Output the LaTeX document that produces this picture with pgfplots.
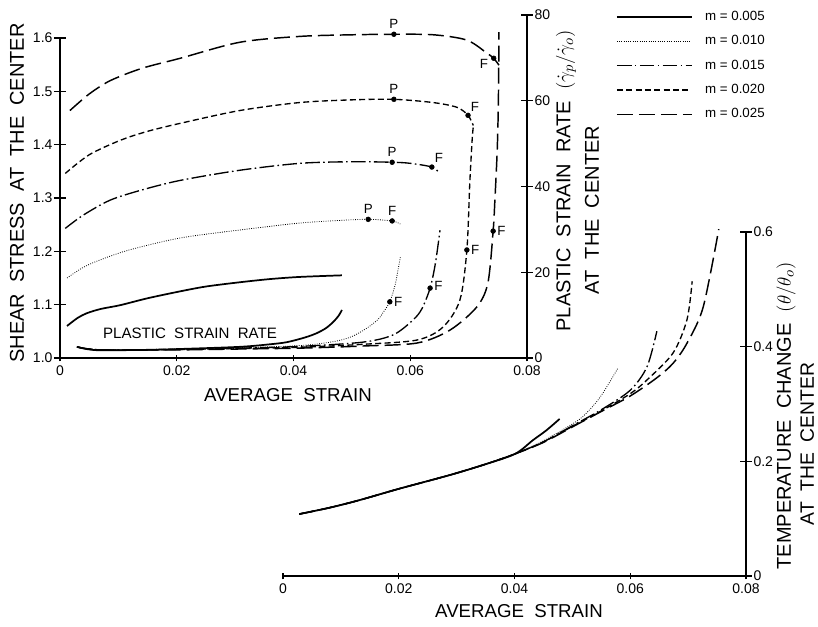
\documentclass[border=0pt]{standalone}
\usepackage{fontspec}
\setmainfont{Liberation Sans}
\usepackage{pgfplots}
\pgfplotsset{compat=1.18}

\newcommand{\ws}{\hspace{0.55em}}
\tikzset{
  m005/.style={black, line width=1.3pt},
  m010/.style={black, line width=0.6pt, dash pattern=on 0.6pt off 1.1pt},
  m015/.style={black, line width=1.0pt, dash pattern=on 11pt off 2.5pt on 1.2pt off 2.5pt},
  m020/.style={black, line width=1.0pt, dash pattern=on 4.5pt off 2.5pt},
  m025/.style={black, line width=1.1pt, dash pattern=on 12pt off 4.5pt},
}
\pgfplotsset{
  base/.style={
    scale only axis, clip=false,
    xmin=0, xmax=0.08,
    scaled x ticks=false, scaled y ticks=false,
    tick align=inside,
    tick style={black, line width=1.1pt},
    ticklabel style={font=\fontsize{10.5}{12}\selectfont},
    xtick style={/pgfplots/major tick length=5pt},
    ytick style={/pgfplots/major tick length=9pt},
  },
  nolinearrow/.style={
    every outer x axis line/.append style={-, line width=1.2pt},
    every outer y axis line/.append style={-, line width=1.2pt},
    axis line style={-, line width=1.2pt},
  },
  pf/.style={only marks, mark=*, mark size=1.8pt, black, forget plot},
}

\begin{document}
\begin{tikzpicture}
\path[use as bounding box] (0,0) rectangle (613.5pt,470.25pt);

% top: shear stress (left axis)
\begin{axis}[base,
  at={(45pt,201.75pt)}, anchor=south west,
  width=350.25pt, height=240pt,
  ymin=1.0, ymax=1.6,
  axis x line=bottom, axis y line=left, nolinearrow,
  xtick={0,0.02,0.04,0.06,0.08},
  xticklabels={0,0.02,0.04,0.06,0.08},
  ytick={1.0,1.1,1.2,1.3,1.4,1.5,1.6},
  yticklabels={1.0,1.1,1.2,1.3,1.4,1.5,1.6},
  legend style={at={(1.19,1.091)}, anchor=north west, draw=none, fill=none,
    font=\fontsize{10}{12}\selectfont, row sep=6.8pt, inner sep=0pt,
    nodes={inner sep=1.5pt},
    /tikz/every odd column/.append style={column sep=8pt}},
  legend cell align=left,
  legend image code/.code={\draw[#1] (0pt,0pt) -- (56pt,0pt);},
]
\addplot[m005, smooth] coordinates {
 (0.0012,1.060) (0.0030,1.075) (0.0046,1.084) (0.0070,1.092) (0.0103,1.099)
 (0.0150,1.112) (0.0206,1.125) (0.0250,1.134) (0.0308,1.142) (0.0360,1.148)
 (0.0411,1.152) (0.0483,1.155)};
\addlegendentry{m = 0.005}
\addplot[m010, smooth] coordinates {
 (0.0012,1.150) (0.0040,1.170) (0.0069,1.184) (0.0120,1.203) (0.0206,1.225)
 (0.0308,1.240) (0.0411,1.253) (0.0480,1.258) (0.0528,1.260) (0.0569,1.257)
 (0.0583,1.251)};
\addlegendentry{m = 0.010}
\addplot[m015, smooth] coordinates {
 (0.0009,1.243) (0.0040,1.268) (0.0086,1.296) (0.0140,1.315) (0.0206,1.333)
 (0.0308,1.352) (0.0411,1.365) (0.0500,1.368) (0.0569,1.367) (0.0600,1.365)
 (0.0637,1.358) (0.0651,1.346)};
\addlegendentry{m = 0.015}
\addplot[m020, smooth] coordinates {
 (0.0009,1.346) (0.0050,1.381) (0.0103,1.408) (0.0150,1.425) (0.0206,1.440)
 (0.0308,1.464) (0.0411,1.479) (0.0500,1.484) (0.0572,1.485) (0.0639,1.479)
 (0.0680,1.470) (0.0699,1.455) (0.0708,1.436)};
\addlegendentry{m = 0.020}
\addplot[m025, smooth] coordinates {
 (0.0017,1.464) (0.0050,1.495) (0.0086,1.520) (0.0140,1.543) (0.0206,1.562)
 (0.0308,1.592) (0.0411,1.603) (0.0500,1.606) (0.0572,1.607) (0.0640,1.606)
 (0.0697,1.596) (0.0732,1.571) (0.0743,1.562) (0.0752,1.549)};
\addlegendentry{m = 0.025}

\addplot[pf] coordinates {
 (0.0572,1.607) (0.0743,1.562) (0.0572,1.485) (0.0699,1.455)
 (0.0569,1.367) (0.0637,1.358) (0.0528,1.260) (0.0569,1.257)};

\begin{scope}[every node/.style={font=\fontsize{10}{12}\selectfont, inner sep=1pt}]
\node[anchor=south] at (axis cs:0.0572,1.607) [yshift=3pt] {P};
\node[anchor=east]  at (axis cs:0.0743,1.562) [xshift=-3pt,yshift=-4pt] {F};
\node[anchor=south] at (axis cs:0.0572,1.485) [yshift=3pt] {P};
\node[anchor=south west] at (axis cs:0.0699,1.455) [xshift=1pt,yshift=2pt] {F};
\node[anchor=south] at (axis cs:0.0569,1.367) [yshift=3pt] {P};
\node[anchor=south west] at (axis cs:0.0637,1.358) [xshift=1pt,yshift=2pt] {F};
\node[anchor=south] at (axis cs:0.0528,1.260) [yshift=3pt] {P};
\node[anchor=south] at (axis cs:0.0569,1.257) [yshift=3pt] {F};
\end{scope}
\end{axis}

% top: plastic strain rate (right axis)
\begin{axis}[base,
  at={(45pt,201.75pt)}, anchor=south west,
  width=350.25pt, height=257.25pt,
  ymin=0, ymax=80,
  axis x line=none, axis y line=right, nolinearrow,
  ytick={0,20,40,60,80},
  yticklabels={0,20,40,60,80},
]
\addplot[m005, smooth] coordinates {
 (0.0029,2.6) (0.0045,2.1) (0.0069,1.8) (0.0150,1.9) (0.0206,2.1) (0.0308,2.6)
 (0.0360,3.2) (0.0389,3.7) (0.0420,4.8) (0.0440,5.8) (0.0456,7.0) (0.0468,8.4)
 (0.0477,9.8) (0.0483,11.2)};
\addplot[m010, smooth] coordinates {
 (0.0029,2.6) (0.0069,1.9) (0.0206,2.1) (0.0308,2.4) (0.0411,2.9) (0.0468,3.8)
 (0.0500,5.0) (0.0526,7.0) (0.0545,9.0) (0.0553,10.5) (0.0565,13.1)
 (0.0574,17.0) (0.0579,20.5) (0.0583,23.5)};
\addplot[m015, smooth] coordinates {
 (0.0029,2.6) (0.0069,1.9) (0.0206,2.0) (0.0308,2.3) (0.0411,2.7) (0.0519,3.7)
 (0.0571,5.4) (0.0605,8.9) (0.0620,11.5) (0.0634,16.3) (0.0643,22.0)
 (0.0651,29.8)};
\addplot[m020, smooth] coordinates {
 (0.0029,2.6) (0.0069,1.9) (0.0206,2.0) (0.0308,2.2) (0.0411,2.5) (0.0520,3.2)
 (0.0612,4.2) (0.0656,7.2) (0.0685,13.5) (0.0697,25.2) (0.0702,40.8)
 (0.0706,50.8) (0.0708,54.0)};
\addplot[m025, smooth] coordinates {
 (0.0029,2.6) (0.0069,1.9) (0.0206,1.9) (0.0308,2.1) (0.0411,2.3) (0.0520,2.8)
 (0.0612,3.5) (0.0668,6.5) (0.0714,11.9) (0.0733,17.5) (0.0742,29.6)
 (0.0745,36.8) (0.0749,48.5) (0.0751,60.0) (0.0752,76.0)};

\addplot[pf] coordinates {
 (0.0565,13.1) (0.0634,16.3) (0.0697,25.2) (0.0742,29.6)};
\begin{scope}[every node/.style={font=\fontsize{10}{12}\selectfont, inner sep=1pt, anchor=west}]
\node at (axis cs:0.0565,13.1) [xshift=2pt] {F};
\node at (axis cs:0.0634,16.3) [xshift=2pt,yshift=2pt] {F};
\node at (axis cs:0.0697,25.2) [xshift=2pt] {F};
\node at (axis cs:0.0742,29.6) [xshift=2pt] {F};
\end{scope}
\end{axis}

% bottom: temperature change
\begin{axis}[base,
  at={(212.25pt,38.25pt)}, anchor=south west,
  width=347.25pt, height=258pt,
  ymin=0, ymax=0.6,
  axis x line=bottom, axis y line=right, nolinearrow,
  xtick={0,0.02,0.04,0.06,0.08},
  xticklabels={0,0.02,0.04,0.06,0.08},
  ytick={0,0.2,0.4,0.6},
  yticklabels={0,0.2,0.4,0.6},
]
\addplot[m005, smooth] coordinates {
 (0.0028,0.108) (0.0080,0.119) (0.0131,0.132) (0.0200,0.152) (0.0288,0.176)
 (0.0350,0.195) (0.0401,0.213) (0.0432,0.237) (0.0455,0.254) (0.0478,0.274)};
\addplot[m010, smooth] coordinates {
 (0.0028,0.108) (0.0080,0.119) (0.0131,0.132) (0.0200,0.152) (0.0288,0.176)
 (0.0350,0.195) (0.0401,0.213) (0.0450,0.236) (0.0490,0.259) (0.0518,0.278)
 (0.0548,0.312) (0.0579,0.363)};
\addplot[m015, smooth] coordinates {
 (0.0028,0.108) (0.0080,0.119) (0.0131,0.132) (0.0200,0.152) (0.0288,0.176)
 (0.0350,0.195) (0.0401,0.213) (0.0450,0.234) (0.0500,0.262) (0.0550,0.290)
 (0.0600,0.324) (0.0629,0.365) (0.0646,0.427)};
\addplot[m020, smooth] coordinates {
 (0.0028,0.108) (0.0080,0.119) (0.0131,0.132) (0.0200,0.152) (0.0288,0.176)
 (0.0350,0.195) (0.0401,0.213) (0.0450,0.234) (0.0500,0.261) (0.0550,0.288)
 (0.0600,0.318) (0.0629,0.342) (0.0674,0.389) (0.0698,0.447) (0.0707,0.514)};
\addplot[m025, smooth] coordinates {
 (0.0028,0.108) (0.0080,0.119) (0.0131,0.132) (0.0200,0.152) (0.0288,0.176)
 (0.0350,0.195) (0.0401,0.213) (0.0450,0.233) (0.0500,0.260) (0.0550,0.287)
 (0.0600,0.314) (0.0645,0.345) (0.0674,0.371) (0.0698,0.406) (0.0726,0.469)
 (0.0753,0.605)};
\end{axis}

% axis titles
\begin{scope}[every node/.style={inner sep=0pt}]
\node[rotate=90, font=\fontsize{15}{18}\selectfont] at (12.75pt,325.5pt)
  {SHEAR\ws STRESS\ws AT\ws THE\ws CENTER};
\node[font=\fontsize{14}{17}\selectfont] at (216pt,174pt)
  {AVERAGE\ws STRAIN};
\node[font=\fontsize{11.3}{13}\selectfont] at (142.5pt,220.5pt)
  {PLASTIC\ws STRAIN\ws RATE};
\node[rotate=90, font=\fontsize{15}{18}\selectfont] at (424.5pt,334.5pt)
  {PLASTIC\ws STRAIN\ws RATE\ws $(\dot{\gamma}_p/\dot{\gamma}_o)$};
\node[rotate=90, font=\fontsize{15}{18}\selectfont] at (444pt,312.75pt)
  {AT\ws THE\ws CENTER};
\node[rotate=90, font=\fontsize{15}{18}\selectfont] at (589.5pt,158.25pt)
  {TEMPERATURE\ws CHANGE\ws $(\theta/\theta_o)$};
\node[rotate=90, font=\fontsize{14.5}{17}\selectfont] at (605.5pt,137.25pt)
  {AT\ws THE\ws CENTER};
\node[font=\fontsize{14}{17}\selectfont] at (389.25pt,12pt)
  {AVERAGE\ws STRAIN};
\end{scope}
\end{tikzpicture}
\end{document}
